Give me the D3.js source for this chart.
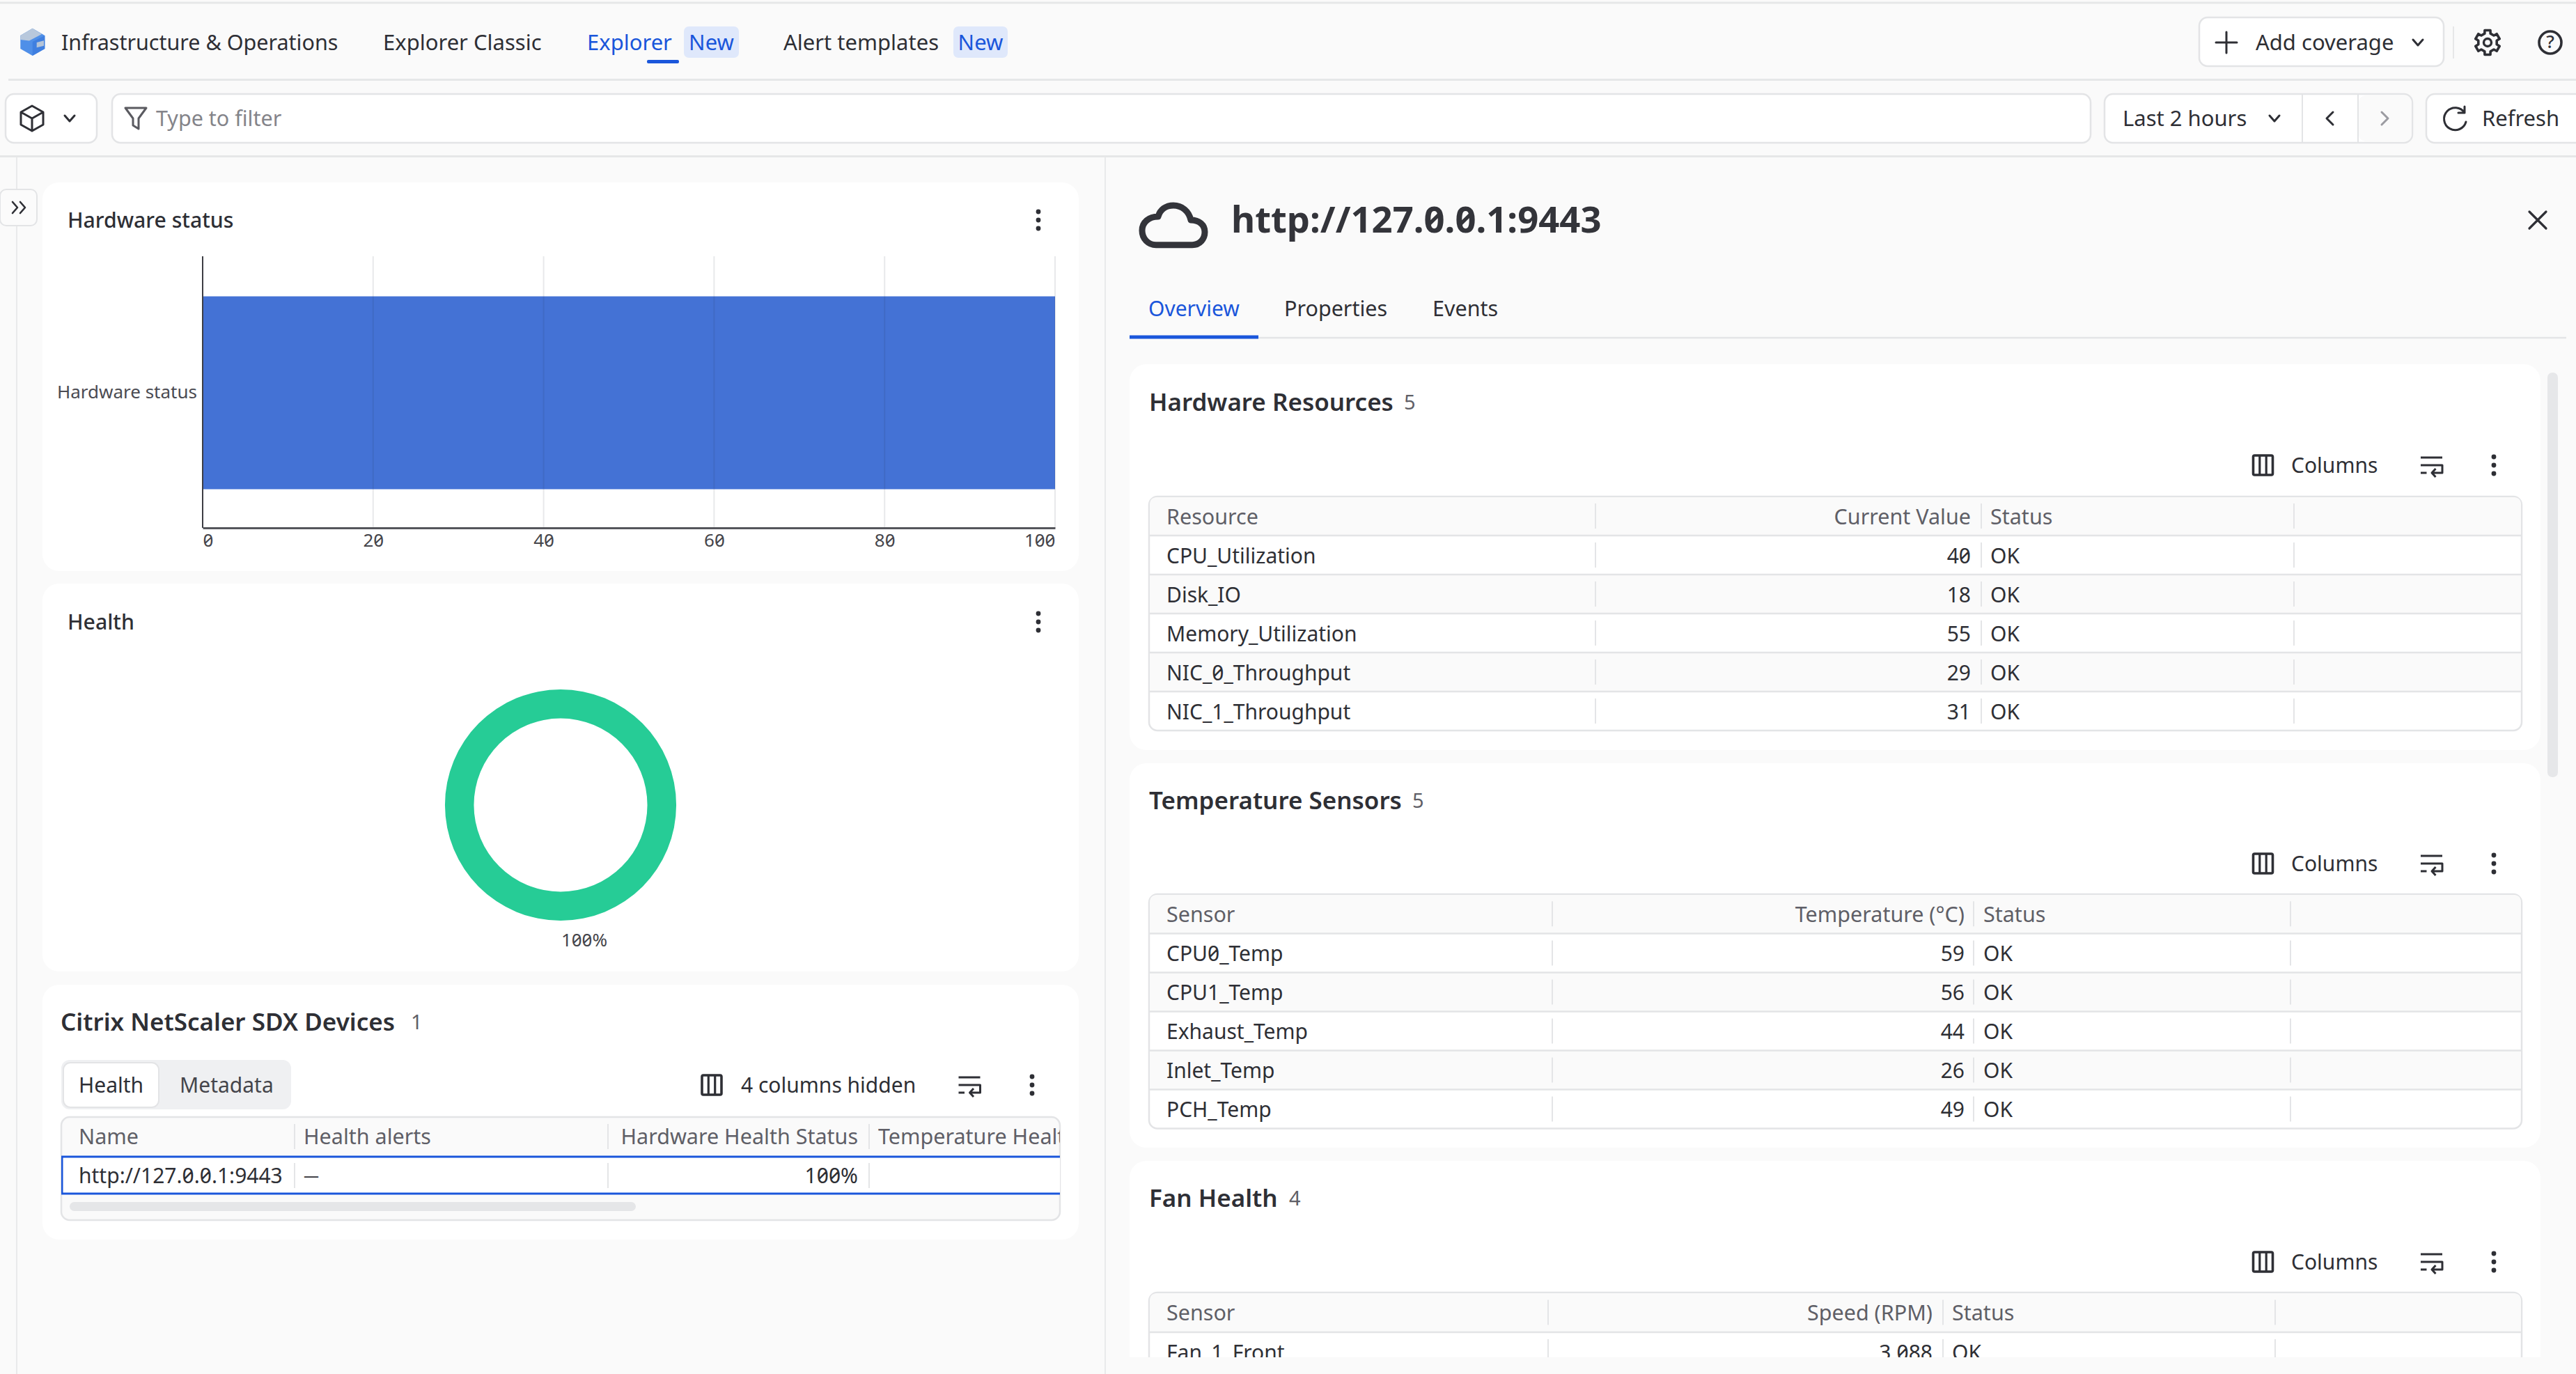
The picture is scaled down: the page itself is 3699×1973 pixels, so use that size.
<!DOCTYPE html>
<html>
<head>
<meta charset="utf-8">
<script src="https://cdn.jsdelivr.net/npm/d3@7"></script>
<style>
  html, body { margin: 0; padding: 0; background: #fafafa; overflow: hidden; }
  svg { display: block; }
  text { font-family: "Noto Sans", sans-serif; font-feature-settings: "zero" 1; }
</style>
</head>
<body>
<div id="app"></div>
<script>
// Data
const navItems = ['Infrastructure & Operations', 'Explorer Classic', 'Explorer', 'Alert templates']
const hardwareCategories = ['Hardware status']
const hardwareValues = [100]
const hardwareTicks = [0, 20, 40, 60, 80, 100]
const healthValues = [100]
const healthLabels = ['100%']

const deviceColumns = ['Name', 'Health alerts', 'Hardware Health Status', 'Temperature Health']
const deviceRow = ['http://127.0.0.1:9443', '—', '100%', '']

const resourceNames = ['CPU_Utilization', 'Disk_IO', 'Memory_Utilization', 'NIC_0_Throughput', 'NIC_1_Throughput']
const resourceValues = [40, 18, 55, 29, 31]
const resourceStatus = ['OK', 'OK', 'OK', 'OK', 'OK']

const sensorNames = ['CPU0_Temp', 'CPU1_Temp', 'Exhaust_Temp', 'Inlet_Temp', 'PCH_Temp']
const sensorValues = [59, 56, 44, 26, 49]
const sensorStatus = ['OK', 'OK', 'OK', 'OK', 'OK']

const fanNames = ['Fan_1_Front']
const fanValues = [3088]
const fanStatus = ['OK']

const W = 3699, H = 1973
const BLUE = '#1a56db', INK = '#2e2f35', MUTED = '#5f5f67', LINE = '#e4e5e7', BG = '#fafafa'

const svg = d3.select('#app').append('svg').attr('width', W).attr('height', H)
const defs = svg.append('defs')
svg.append('rect').attr('width', W).attr('height', H).attr('fill', BG)

function label(g, x, y, str, size, fill = INK, weight = 400, anchor = 'start') {
    return g.append('text')
        .attr('x', x).attr('y', y)
        .attr('dy', '0.35em')
        .attr('font-size', size)
        .attr('font-weight', weight)
        .attr('fill', fill)
        .attr('text-anchor', anchor)
        .text(str)
}

function hline(g, x1, x2, y, color = LINE, w = 2) {
    g.append('line').attr('x1', x1).attr('x2', x2).attr('y1', y).attr('y2', y).attr('stroke', color).attr('stroke-width', w)
}

function vline(g, x, y1, y2, color = LINE, w = 2) {
    g.append('line').attr('x1', x).attr('x2', x).attr('y1', y1).attr('y2', y2).attr('stroke', color).attr('stroke-width', w)
}

function card(g, x, y, x2, y2) {
    g.append('rect').attr('x', x).attr('y', y).attr('width', x2 - x).attr('height', y2 - y).attr('rx', 24).attr('fill', '#fff')
}

function box(g, x, y, x2, y2, r = 12) {
    g.append('rect').attr('x', x).attr('y', y).attr('width', x2 - x).attr('height', y2 - y)
        .attr('rx', r).attr('fill', '#fff').attr('stroke', '#e3e4e6').attr('stroke-width', 2.5)
}

function icon(g, d, x, y, color = INK, w = 3, fill = 'none') {
    return g.append('path').attr('d', d).attr('transform', `translate(${x},${y})`)
        .attr('fill', fill).attr('stroke', color).attr('stroke-width', w)
        .attr('stroke-linecap', 'round').attr('stroke-linejoin', 'round')
}

const chevronDown = 'M-7,-4 L0,4 L7,-4'
const kebab = (g, x, y) => [-12, 0, 12].forEach((o) => g.append('circle').attr('cx', x).attr('cy', y + o).attr('r', 3.4).attr('fill', INK))

function columnsIcon(g, x, y) {
    g.append('rect').attr('x', x - 14).attr('y', y - 14).attr('width', 28).attr('height', 28).attr('rx', 2)
        .attr('fill', 'none').attr('stroke', INK).attr('stroke-width', 3.6)
    vline(g, x - 4.7, y - 14, y + 14, INK, 3.2)
    vline(g, x + 4.7, y - 14, y + 14, INK, 3.2)
}

function wrapIcon(g, x, y) {
    icon(g, 'M-15.5,-11 H15.5 M-15.5,0 H15.5 V11 H1 M6,5 L0.5,11 L6,17 M-15.5,11 H-7', x, y, INK, 3)
        .attr('stroke-linecap', 'butt')
}

/**
 * Top navigation and filter bars
 */
const topBar = svg.append('g')
hline(topBar, 0, W, 4, '#e6e7e8', 3)
hline(topBar, 12, W, 114.5, '#e6e7e8', 3)
hline(topBar, 0, W, 224.5, '#e6e7e8', 3)

// Product logo
topBar.append('path').attr('d', 'M29.3,51 L46.7,40.7 L64.3,51 V70 L46.7,80 L29.3,70 Z').attr('fill', '#4f8fe8')
topBar.append('path').attr('d', 'M46.7,60 L64.3,51 V70 L46.7,80 Z').attr('fill', '#3f7fe0')
topBar.append('path').attr('d', 'M29.3,51 L46.7,40.7 L60,49 L42,58.5 L29.3,57 Z').attr('fill', '#b8c8dc')
topBar.append('path').attr('d', 'M52.7,61 L63,58.3 V65.7 L52.7,68.3 Z').attr('fill', '#b4c4d8')

const navFont = 31
label(topBar, 88, 61, navItems[0], 30.5, INK, 400)
label(topBar, 550, 61, navItems[1], navFont, INK, 400)
label(topBar, 843, 61, navItems[2], navFont, BLUE, 400)
label(topBar, 1125, 61, navItems[3], navFont, INK, 400)
;[[982, 1061], [1369, 1447]].forEach(([a, b]) => {
    topBar.append('rect').attr('x', a).attr('y', 38).attr('width', b - a).attr('height', 45).attr('rx', 7).attr('fill', '#dfe8fb')
    label(topBar, (a + b) / 2, 61, 'New', navFont, BLUE, 400, 'middle')
})
topBar.append('rect').attr('x', 929).attr('y', 86).attr('width', 46).attr('height', 5).attr('rx', 2).attr('fill', BLUE)

// Right side of the nav
box(topBar, 3158, 25, 3509, 95)
icon(topBar, 'M-15,0 H15 M0,-15 V15', 3197, 61, INK, 3)
label(topBar, 3239, 61, 'Add coverage', navFont, INK)
icon(topBar, chevronDown, 3472, 61, INK, 3)
vline(topBar, 3523, 38, 84, '#e6e7e8', 2)

// Gear outline, six teeth
const gearPoints = d3.range(6).flatMap((k) => {
    const a = (k * Math.PI) / 3
    const t = Math.PI / 180
    return [[a - 13 * t, 18], [a + 13 * t, 18], [a + 18 * t, 13.5], [a + 42 * t, 13.5]]
})
topBar.append('path').attr('d', d3.lineRadial().curve(d3.curveLinearClosed)(gearPoints))
    .attr('transform', 'translate(3572,61)')
    .attr('fill', 'none').attr('stroke', INK).attr('stroke-width', 3.6).attr('stroke-linejoin', 'round')
topBar.append('circle').attr('cx', 3572).attr('cy', 61).attr('r', 5.5).attr('fill', 'none').attr('stroke', INK).attr('stroke-width', 3.4)
topBar.append('circle').attr('cx', 3662).attr('cy', 61).attr('r', 16).attr('fill', 'none').attr('stroke', INK).attr('stroke-width', 3.6)
label(topBar, 3662, 60, '?', 26, INK, 500, 'middle')

// Filter bar
box(topBar, 8, 135, 139, 205)
icon(topBar, 'M0,-18 L16,-9 V9 L0,18 L-16,9 V-9 Z M-16,-9 L0,0 L16,-9 M0,0 V18', 46, 170, INK, 3)
icon(topBar, chevronDown, 100, 170, INK, 3)
box(topBar, 161, 135, 3002, 205)
icon(topBar, 'M-15,-15 H15 L4,0 V15 L-4,10 V0 Z', 195, 170, '#5a5a60', 3)
label(topBar, 224, 170, 'Type to filter', 30.5, '#84848a')
box(topBar, 3022, 135, 3464, 205)
label(topBar, 3048, 170, 'Last 2 hours', navFont, INK)
icon(topBar, chevronDown, 3266, 170, INK, 3)
vline(topBar, 3306, 136, 204, '#e3e4e6', 2)
topBar.append('rect').attr('x', 3387).attr('y', 137).attr('width', 76).attr('height', 66).attr('rx', 10).attr('fill', '#fafafa')
vline(topBar, 3386, 136, 204, '#e3e4e6', 2)
icon(topBar, 'M5,-9 L-4,0 L5,9', 3345, 170, INK, 3)
icon(topBar, 'M-5,-9 L4,0 L-5,9', 3425, 170, '#9b9ba1', 3)
box(topBar, 3484, 135, 3720, 205)
icon(topBar, 'M14,-9 A16,16 0 1 0 16,4 M14,-18 V-9 H5', 3525, 171, INK, 3)
label(topBar, 3564, 170, 'Refresh', navFont, INK)

// Left sidebar rails
vline(topBar, 24, 226, H, '#e9eaeb', 2)
vline(topBar, 1587, 226, H, '#e9eaeb', 2)
topBar.append('rect').attr('x', 0).attr('y', 272).attr('width', 53).attr('height', 52).attr('rx', 9)
    .attr('fill', '#fbfbfb').attr('stroke', '#e3e4e6').attr('stroke-width', 2)
icon(topBar, 'M-9,-8 L-2,0 L-9,8 M2,-8 L9,0 L2,8', 27, 298, INK, 2.6)

/**
 * Hardware status bar chart
 */
const barCard = svg.append('g')
card(barCard, 61, 262, 1549, 820)
label(barCard, 97, 316, 'Hardware status', 30.2, INK, 500)
kebab(barCard, 1491, 316)

const xBar = d3.scaleLinear().domain([0, 100]).range([291, 1515])
const yBar = d3.scaleBand().domain(hardwareCategories).range([370, 758]).padding(0.167)

barCard.selectAll('rect.bar').data(hardwareValues).join('rect')
    .attr('class', 'bar')
    .attr('x', xBar(0))
    .attr('y', (d, i) => yBar(hardwareCategories[i]))
    .attr('width', (d) => xBar(d) - xBar(0))
    .attr('height', yBar.bandwidth())
    .attr('fill', '#4472d5')

barCard.selectAll('line.grid').data(hardwareTicks.slice(1)).join('line')
    .attr('class', 'grid')
    .attr('x1', (d) => xBar(d)).attr('x2', (d) => xBar(d))
    .attr('y1', 368).attr('y2', 758)
    .attr('stroke', 'rgba(30,40,60,0.1)').attr('stroke-width', 2)

const xAxis = barCard.append('g').attr('transform', 'translate(0,758)')
    .call(d3.axisBottom(xBar).tickValues(hardwareTicks).tickSize(0).tickPadding(9))
xAxis.select('.domain').attr('stroke', '#55565c').attr('stroke-width', 3)
xAxis.selectAll('text')
    .attr('font-size', 26).attr('fill', '#45454b')
    .attr('text-anchor', (d) => (d === 0 ? 'start' : d === 100 ? 'end' : 'middle'))

const yAxis = barCard.append('g').attr('transform', 'translate(291,0)')
    .call(d3.axisLeft(yBar).tickSize(0).tickPadding(8))
yAxis.select('.domain').remove()
vline(yAxis, 0, 368, 758, '#3d3e44', 2)
yAxis.selectAll('text').attr('font-size', 26).attr('fill', '#4b4b52')

/**
 * Health donut
 */
const donutCard = svg.append('g')
card(donutCard, 61, 838, 1549, 1395)
label(donutCard, 97, 893, 'Health', 30.2, INK, 500)
kebab(donutCard, 1491, 893)

const pie = d3.pie().sort(null)
const arc = d3.arc().innerRadius(124.5).outerRadius(166)
donutCard.append('g').attr('transform', 'translate(805,1156)')
    .selectAll('path').data(pie(healthValues)).join('path')
    .attr('d', arc)
    .attr('fill', '#26cc96')
label(donutCard, 839, 1350, healthLabels[0], 26, '#45454b', 400, 'middle')

/**
 * Shared table drawing
 */
function drawTable(g, { x1, x2, top, headerBottom, rowH, seps, headers, names, values, status, valueRight, statusX, format }) {
    const textX = x1 + 25
    g.append('rect').attr('x', x1).attr('y', top).attr('width', x2 - x1).attr('height', headerBottom - top + rowH * names.length)
        .attr('rx', 12).attr('fill', '#fff').attr('stroke', '#e3e4e6').attr('stroke-width', 2.5)
    g.append('path')
        .attr('d', `M${x1 + 1},${headerBottom} V${top + 12} Q${x1 + 1},${top + 1} ${x1 + 12},${top + 1} H${x2 - 12} Q${x2 - 1},${top + 1} ${x2 - 1},${top + 12} V${headerBottom} Z`)
        .attr('fill', '#fafafa')

    const yRow = d3.scaleBand().domain(d3.range(names.length))
        .range([headerBottom, headerBottom + rowH * names.length])

    names.forEach((name, i) => {
        if (i % 2 === 1) {
            g.append('rect').attr('x', x1 + 1).attr('y', yRow(i)).attr('width', x2 - x1 - 2).attr('height', rowH).attr('fill', '#fafafa')
        }
    })
    hline(g, x1, x2, headerBottom, '#e3e4e6', 2.5)
    names.forEach((name, i) => {
        if (i < names.length - 1) hline(g, x1, x2, yRow(i) + rowH, '#e3e4e6', 2.5)
    })

    const headerY = (top + headerBottom) / 2
    seps.forEach((s) => vline(g, s, headerY - 18, headerY + 18))
    label(g, textX, headerY + 1, headers[0], 30.5, MUTED)
    label(g, valueRight, headerY + 1, headers[1], 30.5, MUTED, 400, 'end')
    label(g, statusX, headerY + 1, headers[2], 30.5, MUTED)

    names.forEach((name, i) => {
        const cy = yRow(i) + rowH / 2
        seps.forEach((s) => vline(g, s, cy - 18, cy + 18))
        label(g, textX, cy + 1, name, 30, INK)
        label(g, valueRight, cy + 1, format ? format(values[i]) : values[i], 30, INK, 400, 'end')
        label(g, statusX, cy + 1, status[i], 30, INK)
    })
}

function toolbar(g, y) {
    columnsIcon(g, 3249.5, y)
    label(g, 3290, y, 'Columns', 30, INK)
    wrapIcon(g, 3491.5, y)
    kebab(g, 3581, y)
}

/**
 * Devices table in the left column
 */
const devCard = svg.append('g')
card(devCard, 61, 1414, 1549, 1780)
label(devCard, 87, 1468, 'Citrix NetScaler SDX Devices', 35, INK, 600)
label(devCard, 590, 1468, '1', 29, MUTED)

devCard.append('rect').attr('x', 88).attr('y', 1522).attr('width', 330).attr('height', 71).attr('rx', 12).attr('fill', '#eff0f2')
devCard.append('rect').attr('x', 91).attr('y', 1526).attr('width', 137).attr('height', 64).attr('rx', 10).attr('fill', '#fff').attr('stroke', '#e3e4e6').attr('stroke-width', 2)
label(devCard, 113, 1558, 'Health', 30, INK)
label(devCard, 258, 1558, 'Metadata', 30, '#45454b')

columnsIcon(devCard, 1022, 1558)
label(devCard, 1064, 1558, '4 columns hidden', 30, INK)
wrapIcon(devCard, 1392, 1558)
kebab(devCard, 1482, 1558)

defs.append('clipPath').attr('id', 'dev-clip').append('rect').attr('x', 88).attr('y', 1604).attr('width', 1434).attr('height', 148).attr('rx', 12)
devCard.append('rect').attr('x', 88).attr('y', 1604).attr('width', 1434).attr('height', 148).attr('rx', 12)
    .attr('fill', '#fafafa').attr('stroke', '#e3e4e6').attr('stroke-width', 2.5)
const devTable = devCard.append('g').attr('clip-path', 'url(#dev-clip)')
devTable.append('rect').attr('x', 89).attr('y', 1661).attr('width', 1440).attr('height', 53).attr('fill', '#fff').attr('stroke', BLUE).attr('stroke-width', 3)
;[423, 873, 1248].forEach((s) => {
    vline(devTable, s, 1614, 1650)
    vline(devTable, s, 1670, 1706)
})
const devColX = [113, 436, 1232, 1261]
label(devTable, devColX[0], 1632, deviceColumns[0], 30.5, MUTED)
label(devTable, devColX[1], 1632, deviceColumns[1], 30.5, MUTED)
label(devTable, devColX[2], 1632, deviceColumns[2], 30.5, MUTED, 400, 'end')
label(devTable, devColX[3], 1632, deviceColumns[3], 30.5, MUTED)
label(devTable, devColX[0], 1688, deviceRow[0], 30, INK)
label(devTable, devColX[1], 1688, deviceRow[1], 22, INK)
label(devTable, devColX[2], 1688, deviceRow[2], 30, INK, 400, 'end')
devCard.append('rect').attr('x', 100).attr('y', 1726).attr('width', 813).attr('height', 13).attr('rx', 6.5).attr('fill', '#e5e6e8')

/**
 * Detail panel on the right
 */
const panel = svg.append('g')
icon(panel, 'M1660,351.7 H1712 C1723,351.7 1730,343 1730,333 C1730,323 1722,316 1710,316 C1707,303 1697,295 1685,295 C1674,295 1666,301 1663,311 C1650,311 1640,319 1640,331 C1640,343 1649,351.7 1660,351.7 Z', 0, 0, '#33343a', 9)
label(panel, 1768, 316, 'http://127.0.0.1:9443', 52.6, '#33343a', 700)
icon(panel, 'M-12,-12 L12,12 M12,-12 L-12,12', 3644, 316, INK, 3.2)

label(panel, 1649, 443, 'Overview', 30, BLUE)
label(panel, 1844, 443, 'Properties', 30.5, INK)
label(panel, 2057, 443, 'Events', 30.5, INK)
hline(panel, 1622, 3685, 485, '#e4e5e7', 2.5)
hline(panel, 1622, 1807, 484, BLUE, 5)

defs.append('clipPath').attr('id', 'panel-clip').append('rect').attr('x', 1600).attr('y', 490).attr('width', 2099).attr('height', 1459)
const content = panel.append('g').attr('clip-path', 'url(#panel-clip)')
content.append('rect').attr('x', 3658).attr('y', 535).attr('width', 15).attr('height', 581).attr('rx', 7).attr('fill', '#e6e7e9')

// Hardware Resources
card(content, 1622, 523, 3648, 1077)
label(content, 1650, 578, 'Hardware Resources', 35, INK, 600)
label(content, 2016, 578, resourceNames.length, 29, MUTED)
toolbar(content, 668)
drawTable(content, {
    x1: 1650, x2: 3621, top: 713, headerBottom: 769, rowH: 56,
    seps: [2291, 2845, 3294],
    headers: ['Resource', 'Current Value', 'Status'],
    names: resourceNames, values: resourceValues, status: resourceStatus,
    valueRight: 2830, statusX: 2858,
})

// Temperature Sensors
card(content, 1622, 1096, 3648, 1648)
label(content, 1650, 1150, 'Temperature Sensors', 35, INK, 600)
label(content, 2028, 1150, sensorNames.length, 29, MUTED)
toolbar(content, 1240)
drawTable(content, {
    x1: 1650, x2: 3621, top: 1284, headerBottom: 1340.5, rowH: 56,
    seps: [2229, 2834, 3289],
    headers: ['Sensor', 'Temperature (°C)', 'Status'],
    names: sensorNames, values: sensorValues, status: sensorStatus,
    valueRight: 2821, statusX: 2848,
})

// Fan Health, cut off by the bottom of the panel
card(content, 1622, 1667, 3648, 2100)
label(content, 1650, 1721, 'Fan Health', 35, INK, 600)
label(content, 1851, 1721, 4, 29, MUTED)
toolbar(content, 1812)
drawTable(content, {
    x1: 1650, x2: 3621, top: 1856, headerBottom: 1913, rowH: 56,
    seps: [2223, 2790, 3267],
    headers: ['Sensor', 'Speed (RPM)', 'Status'],
    names: fanNames, values: fanValues, status: fanStatus,
    valueRight: 2775, statusX: 2803, format: d3.format(','),
})
</script>
</body>
</html>
